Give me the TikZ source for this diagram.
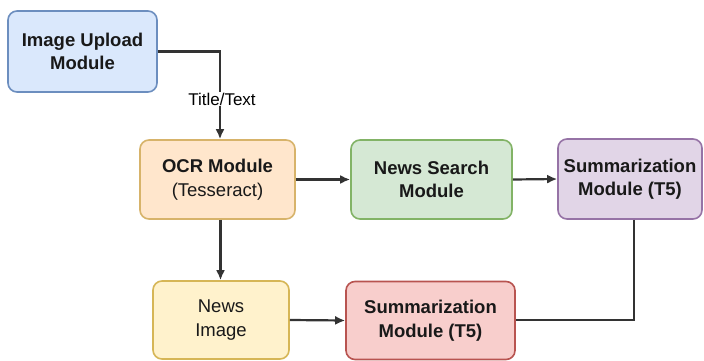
\documentclass[tikz,border=0pt]{standalone}
\usepackage{fontspec}
\setmainfont{Liberation Sans}
\usetikzlibrary{arrows.meta}
\definecolor{bluefill}{HTML}{DAE8FC}\definecolor{blueline}{HTML}{6C8EBF}
\definecolor{orfill}{HTML}{FFE6CC}\definecolor{orline}{HTML}{D7B36A}
\definecolor{grfill}{HTML}{D5E8D4}\definecolor{grline}{HTML}{82B366}
\definecolor{pufill}{HTML}{E1D5E7}\definecolor{puline}{HTML}{9673A6}
\definecolor{yefill}{HTML}{FFF2CC}\definecolor{yeline}{HTML}{D6B656}
\definecolor{refill}{HTML}{F8CECC}\definecolor{reline}{HTML}{B85450}
\definecolor{edge}{HTML}{333333}
\tikzset{
  box/.style={rectangle, rounded corners=9pt, line width=1.6pt, align=center,
    inner sep=0pt, font=\fontsize{18.5}{23.5}\selectfont, text=black!90},
  conn/.style={draw=edge, line width=2.2pt},
  arr/.style={conn, -{Latex[length=10pt,width=9pt]}},
}
\begin{document}
\begin{tikzpicture}[x=1pt,y=-1pt]
\useasboundingbox[fill=white] (0,0) rectangle (704,361);
\node[box, fill=bluefill, draw=blueline, minimum width=149pt, minimum height=81pt] (up) at (82.5,51.5) {\textbf{Image Upload}\\\textbf{Module}};
\node[box, fill=orfill, draw=orline, minimum width=155pt, minimum height=79pt] (ocr) at (217.5,179.5) {\textbf{OCR Module}\\(Tesseract)};
\node[box, fill=grfill, draw=grline, minimum width=161pt, minimum height=79pt] (news) at (431.5,179.5) {\textbf{News Search}\\\textbf{Module}};
\node[box, fill=pufill, draw=puline, minimum width=144pt, minimum height=80pt] (suma) at (630,179) {\textbf{Summarization}\\\textbf{Module (T5)}};
\node[box, fill=yefill, draw=yeline, minimum width=136pt, minimum height=78pt] (img) at (221,320) {News\\Image};
\node[box, fill=refill, draw=reline, minimum width=169pt, minimum height=78pt] (sumb) at (430.5,320.5) {\textbf{Summarization}\\\textbf{Module (T5)}};
\coordinate (c1) at (220,51.5);
\draw[arr] (up.east) -- (c1) -- (c1 |- ocr.north);
\node[fill=white, inner sep=1pt, font=\fontsize{17}{20}\selectfont] (lbl) at (222,99) {Title/Text};
\draw[arr] (ocr.east) -- (news.west);
\draw[arr] (news.east) -- (suma.west);
\draw[arr] (ocr.south -| 220.5,0) -- (img.north -| 220.5,0);
\draw[arr] (img.east) -- (sumb.west);
\coordinate (c2) at (634,320);
\draw[conn] (suma.south -| c2) -- (c2) -- (sumb.east |- c2);
\end{tikzpicture}
\end{document}
